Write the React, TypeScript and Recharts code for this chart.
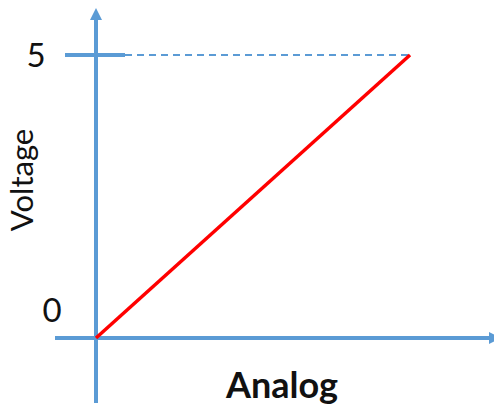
import React from "react";
import { LineChart, Line, XAxis, YAxis, ReferenceLine, Label } from "recharts";

// analog reading vs output voltage
const analogValues = [0, 1023];
const voltageValues = [0, 5];
const voltageTicks = [0, 5];
const xTitle = "Analog";
const yTitle = "Voltage";

const data = analogValues.map((a, i) => ({ analog: a, voltage: voltageValues[i] }));

const W = 502;
const H = 412;
const AXIS_W = 60;
const PLOT = { left: 96, top: 55, right: 410, bottom: 338 };
const BLUE = "#5b9bd5";
const FONT = "Lato, 'Open Sans', sans-serif";

// convert page pixels into data units so the decoration lines go through the scales
const pxPerX = (PLOT.right - PLOT.left) / analogValues[1];
const pxPerY = (PLOT.bottom - PLOT.top) / voltageValues[1];
const xAt = (px: number) => (px - PLOT.left) / pxPerX;
const yAt = (py: number) => (PLOT.bottom - py) / pxPerY;

const arrowLine = (p: any) => {
    const { x1, y1, x2, y2 } = p;
    const ang = Math.atan2(y2 - y1, x2 - x1);
    const len = 12;
    const half = 6;
    const bx = x2 - Math.cos(ang) * len;
    const by = y2 - Math.sin(ang) * len;
    const nx = -Math.sin(ang) * half;
    const ny = Math.cos(ang) * half;
    return (
        <g>
            <line x1={x1} y1={y1} x2={bx} y2={by} stroke={BLUE} strokeWidth={4} />
            <polygon points={`${x2},${y2} ${bx + nx},${by + ny} ${bx - nx},${by - ny}`} fill={BLUE} />
        </g>
    );
};

const VoltTick = (props: any) => {
    const { y, payload } = props;
    const isZero = payload.value === 0;
    // the zero sits up and to the right, above the x axis
    return (
        <text
            x={isZero ? 52 : 36}
            y={y - (isZero ? 28 : 0)}
            dy={12}
            textAnchor="middle"
            fill="#111"
            fontSize={33}
            fontFamily={FONT}
        >
            {payload.value}
        </text>
    );
};

export default function App() {
    return (
        <div style={{ width: W, height: H, background: "#fff", margin: -8 }}>
            <LineChart
                width={W}
                height={H}
                data={data}
                margin={{ top: PLOT.top, right: W - PLOT.right, left: PLOT.left - AXIS_W, bottom: 0 }}
            >
                <XAxis
                    dataKey="analog"
                    type="number"
                    domain={[analogValues[0], analogValues[1]]}
                    axisLine={false}
                    tickLine={false}
                    tick={false}
                    height={H - PLOT.bottom}
                >
                    <Label
                        content={(p: any) => (
                            <text
                                x={p.viewBox.x + 186}
                                y={p.viewBox.y + 60}
                                textAnchor="middle"
                                fontSize={36}
                                fontWeight="bold"
                                fontFamily={FONT}
                                fill="#111"
                            >
                                {xTitle}
                            </text>
                        )}
                    />
                </XAxis>
                <YAxis
                    type="number"
                    domain={[voltageValues[0], voltageValues[1]]}
                    ticks={voltageTicks}
                    axisLine={false}
                    tickLine={false}
                    tick={<VoltTick />}
                    width={AXIS_W}
                >
                    <Label
                        content={() => {
                            const cx = 33;
                            const cy = 180;
                            return (
                                <text
                                    x={cx}
                                    y={cy}
                                    transform={`rotate(-90 ${cx} ${cy})`}
                                    textAnchor="middle"
                                    fontSize={31}
                                    fontFamily={FONT}
                                    fill="#111"
                                >
                                    {yTitle}
                                </text>
                            );
                        }}
                    />
                </YAxis>
                {/* dashed guide at full scale */}
                <ReferenceLine
                    segment={[{ x: xAt(125), y: voltageValues[1] }, { x: analogValues[1], y: voltageValues[1] }]}
                    stroke={BLUE}
                    strokeWidth={2}
                    strokeDasharray="7 5"
                    ifOverflow="visible"
                />
                {/* tick mark at 5 */}
                <ReferenceLine
                    segment={[{ x: xAt(65), y: voltageValues[1] }, { x: xAt(125), y: voltageValues[1] }]}
                    stroke={BLUE}
                    strokeWidth={4}
                    ifOverflow="visible"
                />
                {/* axes with arrow heads */}
                <ReferenceLine
                    segment={[{ x: xAt(55), y: 0 }, { x: xAt(501), y: 0 }]}
                    shape={arrowLine}
                    ifOverflow="visible"
                />
                <ReferenceLine
                    segment={[{ x: 0, y: yAt(403) }, { x: 0, y: yAt(8) }]}
                    shape={arrowLine}
                    ifOverflow="visible"
                />
                <Line
                    dataKey="voltage"
                    stroke="#ff0000"
                    strokeWidth={3.5}
                    dot={false}
                    isAnimationActive={false}
                />
            </LineChart>
        </div>
    );
}
